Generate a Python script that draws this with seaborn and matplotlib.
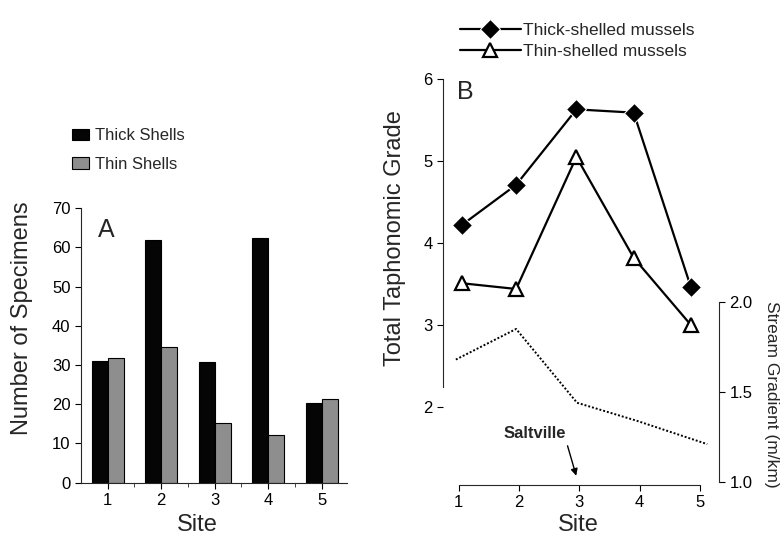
import pandas as pd
import seaborn as sns
import matplotlib.pyplot as plt

# panel A - specimen counts per site
sites = ['1', '2', '3', '4', '5']
thick_counts = [30.9, 61.8, 30.7, 62.4, 20.2]
thin_counts = [31.8, 34.7, 15.3, 12.1, 21.4]

# panel B - taphonomic grade and stream gradient
site_pos = [1.05, 1.95, 2.95, 3.9, 4.85]
thick_grade = [4.22, 4.71, 5.63, 5.59, 3.46]
thin_grade = [3.51, 3.44, 5.05, 3.82, 3.0]
gradient_pos = [0.95, 1.95, 2.96, 3.95, 5.12]
gradient = [1.68, 1.85, 1.44, 1.34, 1.21]

sns.set_style('ticks')
plt.rcParams['font.family'] = ['Liberation Sans', 'DejaVu Sans']
plt.rcParams['xtick.major.size'] = 4
plt.rcParams['ytick.major.size'] = 4

fig = plt.figure(figsize=(7.81, 5.42), dpi=100)
axA = fig.add_axes([0.1037, 0.1094, 0.3402, 0.5068])
axB = fig.add_axes([0.567, 0.1052, 0.3536, 0.749])

# ---- A ----
df = pd.DataFrame({'Site': sites * 2,
                   'Count': thick_counts + thin_counts,
                   'Shell': ['Thick Shells'] * 5 + ['Thin Shells'] * 5})
sns.barplot(data=df, x='Site', y='Count', hue='Shell', palette=['#050505', '#8e8e8e'],
            saturation=1, width=0.6, edgecolor='black', linewidth=0.8, ax=axA)
h, l = axA.get_legend_handles_labels()
axA.get_legend().remove()
fig.legend(h, l, loc='upper left', bbox_to_anchor=(0.092, 0.763), frameon=False,
           fontsize=12, handlelength=1.0, handleheight=0.7, handletextpad=0.4,
           labelspacing=0.8, borderpad=0, borderaxespad=0)
axA.set_xlim(-0.5, 4.47)
axA.set_ylim(0, 70)
axA.set_yticks(range(0, 71, 10))
axA.set_xticks([0.5, 1.5, 2.5, 3.5], minor=True)
axA.tick_params(which='minor', axis='x', length=3)
axA.tick_params(labelsize=12, colors='black')
sns.despine(ax=axA)
axA.set_xlabel('Site', fontsize=17, va='center')
axA.xaxis.set_label_coords(0.437, -0.153)
axA.set_ylabel('Number of Specimens', fontsize=17, va='center')
axA.yaxis.set_label_coords(-0.222, 0.6)
axA.text(-0.18, 64.3, 'A', fontsize=18, va='center', ha='left')

# ---- B ----
sns.lineplot(x=site_pos, y=thick_grade, color='black', marker='D', markersize=10,
             linewidth=1.6, ax=axB, label='Thick-shelled mussels')
sns.lineplot(x=site_pos, y=thin_grade, color='black', marker='^', markersize=10,
             markerfacecolor='white', markeredgecolor='black', markeredgewidth=1.6,
             linewidth=1.6, ax=axB, label='Thin-shelled mussels')
h, l = axB.get_legend_handles_labels()
axB.get_legend().remove()
fig.legend(h, l, loc='upper left', bbox_to_anchor=(0.589, 0.957), frameon=False,
           fontsize=12.5, handlelength=3.5, handletextpad=0.15, labelspacing=0.3,
           borderpad=0, borderaxespad=0)
axB.set_xlim(0.734, 5.315)
axB.set_ylim(1.05, 6)
axB.set_xticks([1, 2, 3, 4, 5])
axB.set_yticks([2, 3, 4, 5, 6])
axB.spines['left'].set_bounds(2.25, 6)
axB.spines['bottom'].set_bounds(1, 5)
axB.spines['top'].set_visible(False)
axB.spines['right'].set_visible(False)
axB.tick_params(labelsize=12, colors='black')
axB.set_xlabel('Site', fontsize=17, va='center')
axB.xaxis.set_label_coords(0.489, -0.0985)
axB.set_ylabel('Total Taphonomic Grade', fontsize=17, va='center')
axB.yaxis.set_label_coords(-0.174, 0.608)
axB.text(0.97, 5.84, 'B', fontsize=18, va='center', ha='left')
axB.annotate('', xy=(2.96, 1.13), xytext=(2.79, 1.56),
             arrowprops=dict(arrowstyle='-|>', color='black', lw=1, mutation_scale=10))
axB.text(2.26, 1.68, 'Saltville', fontsize=12, fontweight='bold', ha='center', va='center')

axG = axB.twinx()
sns.lineplot(x=gradient_pos, y=gradient, color='black', linestyle=(0, (1, 1)),
             linewidth=1.4, ax=axG)
axG.set_ylim(0.983, 3.239)
axG.set_yticks([1.0, 1.5, 2.0])
axG.set_yticklabels(['1.0', '1.5', '2.0'])
for s in ['left', 'top', 'bottom']:
    axG.spines[s].set_visible(False)
axG.spines['right'].set_bounds(1.0, 2.0)
axG.tick_params(labelsize=12, colors='black')
axG.set_ylabel('Stream Gradient (m/km)', fontsize=12.5, rotation=270, va='center')
axG.yaxis.set_label_coords(1.19, 0.224)

plt.savefig('out.png', dpi=100)
